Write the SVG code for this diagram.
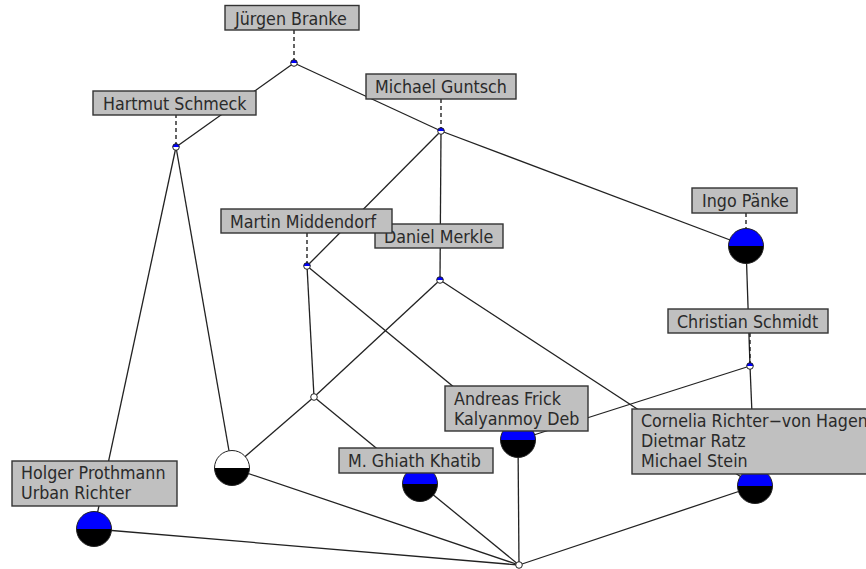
<svg xmlns="http://www.w3.org/2000/svg" width="866" height="569" viewBox="0 0 866 569">
<style>
.e{stroke:#222;stroke-width:1.3;fill:none}
.d{stroke:#111;stroke-width:1.3;stroke-dasharray:4 3;fill:none}
.box{fill:#c0c0c0;stroke:#333;stroke-width:1.4}
.t{font-family:"DejaVu Sans Condensed","DejaVu Sans",sans-serif;font-stretch:condensed;font-size:17.7px;fill:#2a2a2a}
.o{stroke:#222;stroke-width:1}
</style>
<defs>
<g id="bigB"><path d="M-17.5,0 A17.5,17.5 0 0 1 17.5,0 Z" fill="#0000ff"/><path d="M-17.5,0 A17.5,17.5 0 0 0 17.5,0 Z" fill="#000"/><circle r="17.5" fill="none" class="o"/></g>
<g id="bigW"><path d="M-17.5,0 A17.5,17.5 0 0 1 17.5,0 Z" fill="#fff"/><path d="M-17.5,0 A17.5,17.5 0 0 0 17.5,0 Z" fill="#000"/><circle r="17.5" fill="none" class="o"/></g>
<g id="smB"><circle r="3.3" fill="#fff"/><path d="M-3.3,0 A3.3,3.3 0 0 1 3.3,0 Z" fill="#0000ff"/><circle r="3.3" fill="none" class="o"/></g>
<g id="smW"><circle r="3.3" fill="#fff" class="o"/></g>
</defs>
<g id="connectors">
<line class="e" x1="294" y1="63" x2="176" y2="147"/>
<line class="e" x1="294" y1="63" x2="441" y2="131"/>
<line class="e" x1="441" y1="131" x2="746" y2="246"/>
<line class="e" x1="441" y1="131" x2="307" y2="266"/>
<line class="e" x1="441" y1="131" x2="440" y2="280"/>
<line class="e" x1="176" y1="147" x2="94" y2="529"/>
<line class="e" x1="176" y1="147" x2="232" y2="468"/>
<line class="e" x1="307" y1="266" x2="314" y2="397"/>
<line class="e" x1="307" y1="266" x2="518" y2="440"/>
<line class="e" x1="440" y1="280" x2="314" y2="397"/>
<line class="e" x1="440" y1="280" x2="755" y2="486"/>
<line class="e" x1="746" y1="246" x2="750" y2="366"/>
<line class="e" x1="750" y1="366" x2="518" y2="440"/>
<line class="e" x1="750" y1="366" x2="755" y2="486"/>
<line class="e" x1="314" y1="397" x2="232" y2="468"/>
<line class="e" x1="314" y1="397" x2="420" y2="484"/>
<line class="e" x1="232" y1="468" x2="519" y2="565"/>
<line class="e" x1="94" y1="529" x2="519" y2="565"/>
<line class="e" x1="420" y1="484" x2="519" y2="565"/>
<line class="e" x1="518" y1="440" x2="519" y2="565"/>
<line class="e" x1="755" y1="486" x2="519" y2="565"/>
</g>
<g id="n-top"><use href="#smB" x="294" y="63"/></g>
<g id="n-hs"><use href="#smB" x="176" y="147"/></g>
<g id="n-mg"><use href="#smB" x="441" y="131"/></g>
<g id="n-mm"><use href="#smB" x="307" y="266"/></g>
<g id="n-dm"><use href="#smB" x="440" y="280"/></g>
<g id="n-ip"><use href="#bigB" x="746" y="246"/></g>
<g id="n-cs"><use href="#smB" x="750" y="366"/></g>
<g id="n-mid"><use href="#smW" x="314" y="397"/></g>
<g id="n-w"><use href="#bigW" x="232" y="468"/></g>
<g id="n-hp"><use href="#bigB" x="94" y="529"/></g>
<g id="n-kh"><use href="#bigB" x="420" y="484"/></g>
<g id="n-af"><use href="#bigB" x="518" y="440"/></g>
<g id="n-cr"><use href="#bigB" x="755" y="486"/></g>
<g id="n-bottom"><use href="#smW" x="519" y="565"/></g>
<g id="l-jb"><line class="d" x1="294" y1="30" x2="294" y2="60"/><rect class="box" x="225" y="5.5" width="134" height="24.5"/><text class="t" x="235" y="25">Jürgen Branke</text></g>
<g id="l-mg"><line class="d" x1="441" y1="99" x2="441" y2="128"/><rect class="box" x="366" y="74" width="150" height="25"/><text class="t" x="375" y="93">Michael Guntsch</text></g>
<g id="l-hs"><line class="d" x1="176" y1="114" x2="176" y2="144"/><rect class="box" x="93" y="91" width="163" height="24"/><text class="t" x="103" y="110">Hartmut Schmeck</text></g>
<g id="l-dm"><rect class="box" x="375" y="224" width="128" height="24"/><text class="t" x="384" y="243">Daniel Merkle</text></g>
<g id="l-mm"><line class="d" x1="307" y1="233" x2="307" y2="263"/><rect class="box" x="221" y="209" width="171" height="24"/><text class="t" x="230" y="228">Martin Middendorf</text></g>
<g id="l-ip"><line class="d" x1="746" y1="213" x2="746" y2="228"/><rect class="box" x="692" y="188" width="105" height="25"/><text class="t" x="702" y="207">Ingo Pänke</text></g>
<g id="l-cs"><line class="d" x1="750" y1="333" x2="750" y2="363"/><rect class="box" x="668" y="309" width="160" height="24"/><text class="t" x="677" y="328">Christian Schmidt</text></g>
<g id="l-af"><rect class="box" x="445" y="386" width="143" height="45"/><text class="t" x="454" y="405">Andreas Frick</text><text class="t" x="454" y="425">Kalyanmoy Deb</text></g>
<g id="l-kh"><rect class="box" x="339" y="448" width="154" height="25"/><text class="t" x="348" y="467">M. Ghiath Khatib</text></g>
<g id="l-cr"><rect class="box" x="632" y="409" width="240" height="65"/><text class="t" x="641" y="427">Cornelia Richter−von Hagen</text><text class="t" x="641" y="447">Dietmar Ratz</text><text class="t" x="641" y="467">Michael Stein</text></g>
<g id="l-hp"><rect class="box" x="12" y="461" width="165" height="45"/><text class="t" x="21" y="479">Holger Prothmann</text><text class="t" x="21" y="499">Urban Richter</text></g>
</svg>
